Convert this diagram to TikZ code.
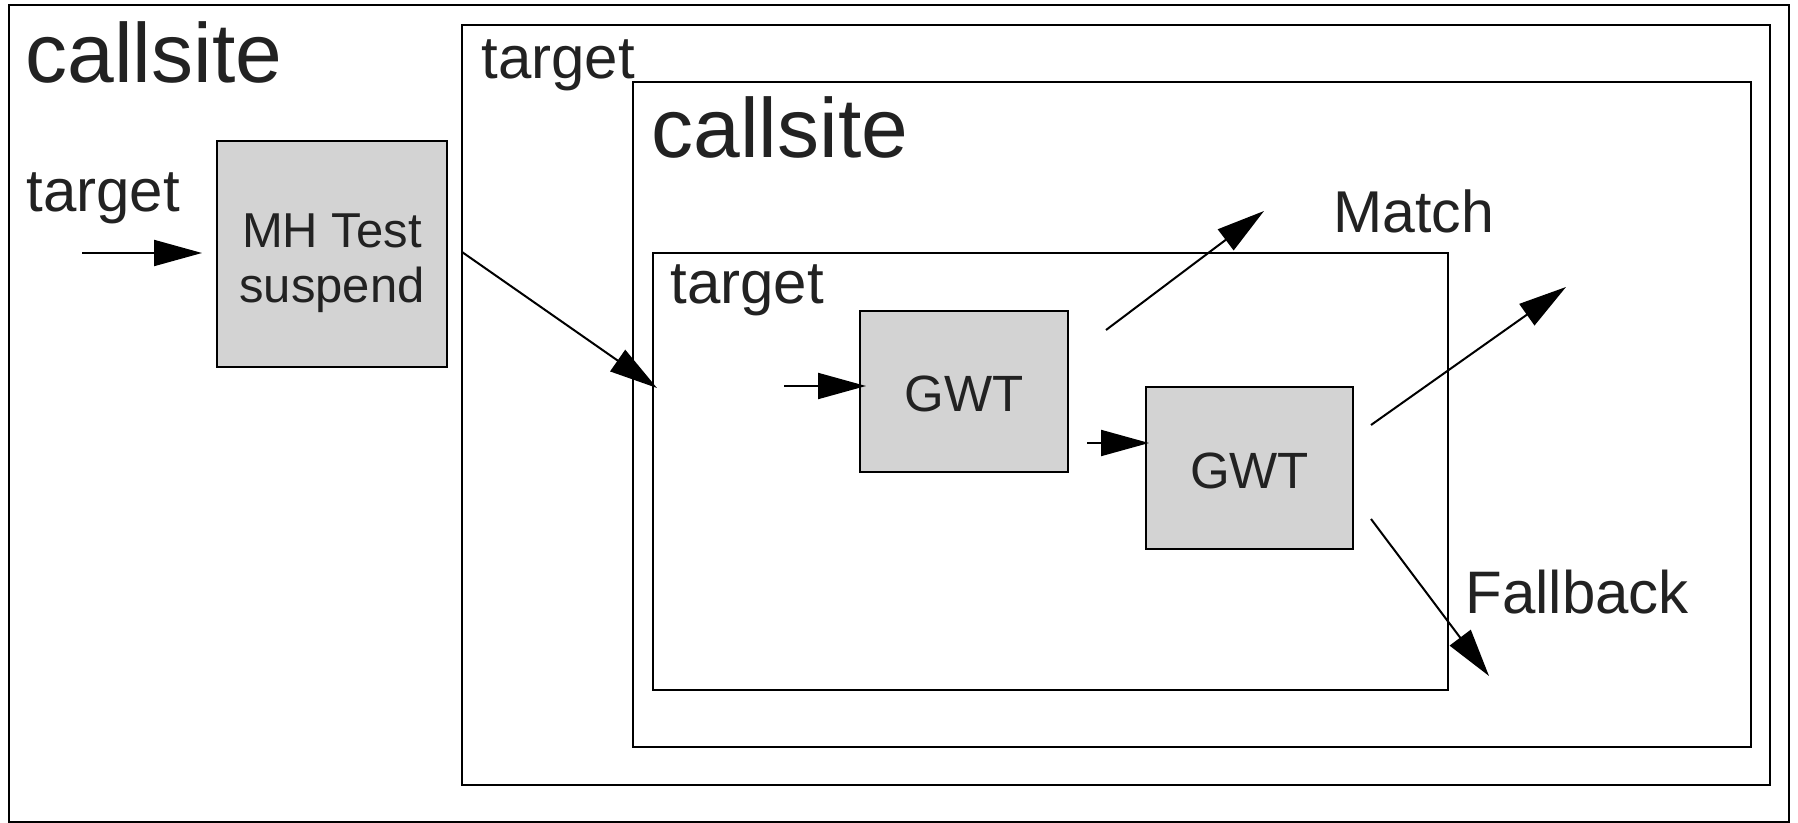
\documentclass[tikz,border=0pt]{standalone}
\usepackage{fontspec}
\setmainfont{Liberation Sans}
\usepackage{tikz}
\usetikzlibrary{arrows.meta}

\definecolor{ink}{HTML}{222222}
\definecolor{boxgray}{HTML}{D3D3D3}

\tikzset{
  frame/.style={draw,line width=1pt},
  grey box/.style={draw,line width=1pt,fill=boxgray,text=ink,inner sep=0pt,
    font=\fontsize{24.5}{27.5}\selectfont,align=center},
  flow/.style={line width=1pt,-{Triangle[length=24pt,width=13pt]}},
  biglabel/.style={text=ink,inner sep=0pt,anchor=base west,font=\fontsize{42}{46}\selectfont},
  lbl/.style={text=ink,inner sep=0pt,anchor=base west,font=\fontsize{30}{33}\selectfont},
}

\begin{document}
\begin{tikzpicture}[x=0.5pt,y=-0.5pt]
    \useasboundingbox (0,0) rectangle (1798,823);
%   nested frames
    \draw[frame] (9,5) rectangle (1789,822);
    \draw[frame] (462,25) rectangle (1770,785);
    \draw[frame] (633,82) rectangle (1751,747);
    \draw[frame] (653,253) rectangle (1448,690);

    \node[biglabel] (cs1) at (25,83) {callsite};
    \node[lbl] (tg1) at (26,212) {target};
    \node[lbl] (tg2) at (481,79) {target};
    \node[biglabel] (cs2) at (651,158) {callsite};
    \node[lbl] (tg3) at (670,304) {target};
    \node[lbl,font=\fontsize{29.5}{33}\selectfont] (match) at (1333,233) {Match};
    \node[lbl] (fallback) at (1465,613) {Fallback};

    \node[grey box,minimum width=115pt,minimum height=113pt,text height=53.1pt] (mh) at (332,254) {MH Test\\suspend};
    \node[grey box,font=\fontsize{25.5}{28}\selectfont,text height=20.3pt,
          minimum width=104pt,minimum height=80.5pt] (gwtA) at (964,391.5) {GWT};
    \node[grey box,font=\fontsize{25.5}{28}\selectfont,text height=20.3pt,
          minimum width=103.5pt,minimum height=81pt] (gwtB) at (1249.5,468) {GWT};

    \coordinate (in1) at (82,253);
    \coordinate (mhout) at (462,252);
    \coordinate (enter) at (657,388);
    \coordinate (in2) at (784,386);
    \coordinate (in3) at (1087,443);
    \coordinate (out1) at (1106,330);
    \coordinate (hit1) at (1264,211);
    \coordinate (out2) at (1371,425);
    \coordinate (hit2) at (1566,287);
    \coordinate (out3) at (1371,519);
    \coordinate (miss) at (1489,676);

    \draw[flow,shorten >=7pt] (in1) -- (in1 -| mh.west);
    \draw[flow] (mhout) -- (enter);
    \draw[flow,shorten >=-3.5pt] (in2) -- (in2 -| gwtA.west);
    \draw[flow,shorten >=-2pt] (in3) -- (in3 -| gwtB.west);
    \draw[flow] (out1) -- (hit1);
    \draw[flow] (out2) -- (hit2);
    \draw[flow] (out3) -- (miss);
\end{tikzpicture}
\end{document}
